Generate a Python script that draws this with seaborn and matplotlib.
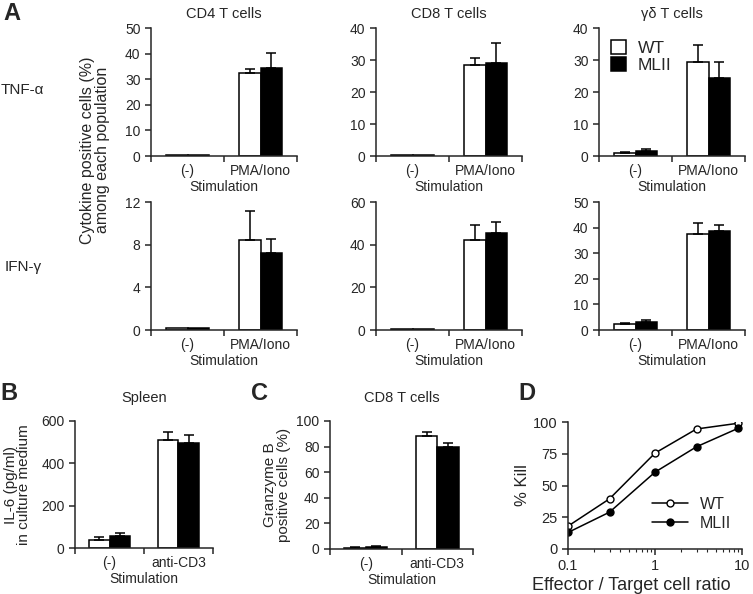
import numpy as np
import matplotlib
matplotlib.use("Agg")
import matplotlib.pyplot as plt
from matplotlib.patches import Patch
import seaborn as sns
import pandas as pd

# --- data -------------------------------------------------------------
stim_a = ["(-)", "PMA/Iono"]
stim_bc = ["(-)", "anti-CD3"]
groups = ["WT", "MLII"]

# panel A, TNF-a
cd4_tnf_wt, cd4_tnf_wt_err = [0.3, 32.6], [0.0, 1.2]
cd4_tnf_ml, cd4_tnf_ml_err = [0.3, 34.2], [0.0, 6.0]
cd8_tnf_wt, cd8_tnf_wt_err = [0.3, 28.3], [0.0, 2.4]
cd8_tnf_ml, cd8_tnf_ml_err = [0.3, 29.2], [0.0, 6.0]
gd_tnf_wt, gd_tnf_wt_err = [1.0, 29.3], [0.3, 5.5]
gd_tnf_ml, gd_tnf_ml_err = [1.6, 24.3], [0.7, 5.0]

# panel A, IFN-g
cd4_ifn_wt, cd4_ifn_wt_err = [0.2, 8.4], [0.0, 2.8]
cd4_ifn_ml, cd4_ifn_ml_err = [0.15, 7.2], [0.0, 1.3]
cd8_ifn_wt, cd8_ifn_wt_err = [0.3, 42.2], [0.0, 7.2]
cd8_ifn_ml, cd8_ifn_ml_err = [0.3, 45.6], [0.0, 4.9]
gd_ifn_wt, gd_ifn_wt_err = [2.3, 37.5], [0.4, 4.2]
gd_ifn_ml, gd_ifn_ml_err = [3.0, 38.7], [0.8, 2.3]

# panel B, IL-6
il6_wt, il6_wt_err = [38, 512], [15, 38]
il6_ml, il6_ml_err = [58, 498], [14, 36]

# panel C, granzyme B
gzb_wt, gzb_wt_err = [1.0, 88.0], [0.3, 3.5]
gzb_ml, gzb_ml_err = [1.5, 79.5], [0.8, 3.2]

# panel D, killing
et_ratio = [0.1, 0.3, 1, 3, 9]
kill_wt = [18, 39.5, 75.5, 94.5, 99]
kill_ml = [13, 29, 60.5, 80.5, 95]

# --- style ------------------------------------------------------------
sns.set_style("ticks")
plt.rcParams["font.family"] = ["Liberation Sans", "DejaVu Sans"]
plt.rcParams["axes.linewidth"] = 1.1
plt.rcParams["xtick.major.width"] = 1.1
plt.rcParams["ytick.major.width"] = 1.1
plt.rcParams["xtick.major.size"] = 4
plt.rcParams["ytick.major.size"] = 4
plt.rcParams["xtick.labelsize"] = 10
plt.rcParams["ytick.labelsize"] = 10

W, H = 753, 594
fig = plt.figure(figsize=(W / 100, H / 100), dpi=100)


def px_axes(x0, y0, x1, y1):
    """axes from pixel box (top-left origin)"""
    return fig.add_axes([x0 / W, 1 - y1 / H, (x1 - x0) / W, (y1 - y0) / H])


def bar_panel(ax, cats, wt, wt_err, ml, ml_err, ymax, ystep,
              title=None, ylabel=None, title_pad=7):
    df = pd.DataFrame({
        "stim": cats * 2,
        "group": ["WT"] * len(cats) + ["MLII"] * len(cats),
        "value": wt + ml,
    })
    sns.barplot(data=df, x="stim", y="value", hue="group", hue_order=groups,
                palette={"WT": "white", "MLII": "black"}, edgecolor="black",
                linewidth=1.1, width=0.6, errorbar=None, legend=False, ax=ax)
    errs = wt_err + ml_err
    for p, e in zip(ax.patches, errs):
        if e <= 0:
            continue
        xc = p.get_x() + p.get_width() / 2
        h = p.get_height()
        ax.errorbar([xc], [h], yerr=[[0], [e]], fmt="none", ecolor="black",
                    elinewidth=1.1, capsize=3.5, capthick=1.1, zorder=1)
    ax.set_xlim(-0.5, len(cats) - 0.5)
    ax.set_ylim(0, ymax)
    ax.set_yticks(np.arange(0, ymax + ystep / 2, ystep))
    ax.set_xticks(range(len(cats)))
    ax.set_xticklabels(cats)
    ax.tick_params(axis="x", which="major", length=0, pad=6)
    ax.set_xticks(np.arange(-0.5, len(cats), 1.0), minor=True)
    ax.tick_params(axis="x", which="minor", length=4, width=1.1, direction="out")
    ax.set_xlabel("Stimulation", fontsize=10, labelpad=1)
    ax.set_ylabel(ylabel if ylabel else "", fontsize=11)
    if title:
        ax.set_title(title, fontsize=10.5, pad=title_pad)
    sns.despine(ax=ax)
    return ax


# panel A top row
ax = px_axes(151, 28, 297, 156)
bar_panel(ax, stim_a, cd4_tnf_wt, cd4_tnf_wt_err, cd4_tnf_ml, cd4_tnf_ml_err, 50, 10, "CD4 T cells")
ax = px_axes(376, 28, 522, 156)
bar_panel(ax, stim_a, cd8_tnf_wt, cd8_tnf_wt_err, cd8_tnf_ml, cd8_tnf_ml_err, 40, 10, "CD8 T cells")
ax_gd = px_axes(599, 28, 745, 156)
bar_panel(ax_gd, stim_a, gd_tnf_wt, gd_tnf_wt_err, gd_tnf_ml, gd_tnf_ml_err, 40, 10, "γδ T cells")

handles = [Patch(facecolor="white", edgecolor="black", linewidth=1.1, label="WT"),
           Patch(facecolor="black", edgecolor="black", linewidth=1.1, label="MLII")]
ax_gd.legend(handles=handles, loc="upper left", bbox_to_anchor=(12 / 146, 0.905),
             frameon=False, fontsize=12.5, handlelength=0.85, handleheight=0.85,
             handletextpad=0.7, labelspacing=0.05, borderpad=0, borderaxespad=0)

# panel A bottom row
ax = px_axes(151, 202, 297, 330)
bar_panel(ax, stim_a, cd4_ifn_wt, cd4_ifn_wt_err, cd4_ifn_ml, cd4_ifn_ml_err, 12, 4)
ax = px_axes(376, 202, 522, 330)
bar_panel(ax, stim_a, cd8_ifn_wt, cd8_ifn_wt_err, cd8_ifn_ml, cd8_ifn_ml_err, 60, 20)
ax = px_axes(599, 202, 745, 330)
bar_panel(ax, stim_a, gd_ifn_wt, gd_ifn_wt_err, gd_ifn_ml, gd_ifn_ml_err, 50, 10)

fig.text(95 / W, 1 - 150 / H, "Cytokine positive cells (%)\namong each population",
         rotation=90, ha="center", va="center", fontsize=11.5, linespacing=0.95)
fig.text(1 / W, 1 - 90 / H, "TNF-α", ha="left", va="center", fontsize=11)
fig.text(5 / W, 1 - 267 / H, "IFN-γ", ha="left", va="center", fontsize=11)

# panel B
ax = px_axes(75, 421, 213, 548)
bar_panel(ax, stim_bc, il6_wt, il6_wt_err, il6_ml, il6_ml_err, 600, 200, "Spleen",
          "IL-6 (pg/ml)\nin culture medium", title_pad=14)
ax.yaxis.label.set_linespacing(0.95)
ax.yaxis.labelpad = 7

# panel C
ax = px_axes(330, 421, 473, 549)
bar_panel(ax, stim_bc, gzb_wt, gzb_wt_err, gzb_ml, gzb_ml_err, 100, 20, "CD8 T cells",
          "Granzyme B\npositive cells (%)", title_pad=14)
ax.yaxis.label.set_linespacing(0.95)
ax.yaxis.labelpad = 4

# panel D
ax = px_axes(568, 422, 742, 549)
sns.lineplot(x=et_ratio, y=kill_wt, color="black", linewidth=1.1, marker="o",
             markersize=5, markerfacecolor="white", markeredgecolor="black",
             markeredgewidth=1.0, label="WT", ax=ax)
sns.lineplot(x=et_ratio, y=kill_ml, color="black", linewidth=1.1, marker="o",
             markersize=5, markerfacecolor="black", markeredgecolor="black",
             markeredgewidth=1.0, label="MLII", ax=ax)
ax.set_xscale("log")
ax.set_xlim(0.1, 10)
ax.set_ylim(0, 100)
ax.set_yticks([0, 25, 50, 75, 100])
ax.set_xticks([0.1, 1, 10])
ax.set_xticklabels(["0.1", "1", "10"])
ax.tick_params(axis="both", which="major", labelsize=10.5)
ax.tick_params(axis="x", which="minor", length=2.5, width=0.8)
ax.set_xlabel("Effector / Target cell ratio", fontsize=13)
ax.xaxis.set_label_coords((631 - 568) / 174, -0.22)
ax.set_ylabel("% Kill", fontsize=12, labelpad=2)
ax.legend(loc="upper left", bbox_to_anchor=(0.483, 0.41), frameon=False, fontsize=11.5,
          handlelength=2.25, handletextpad=0.75, labelspacing=0.25,
          borderpad=0, borderaxespad=0)
sns.despine(ax=ax)

# panel letters
fig.text(3 / W, 1 - 13 / H, "A", fontsize=17, fontweight="bold", ha="left", va="center")
fig.text(0 / W, 1 - 393 / H, "B", fontsize=17, fontweight="bold", ha="left", va="center")
fig.text(251 / W, 1 - 393 / H, "C", fontsize=17, fontweight="bold", ha="left", va="center")
fig.text(518 / W, 1 - 393 / H, "D", fontsize=17, fontweight="bold", ha="left", va="center")

fig.savefig("out.png", dpi=100)
